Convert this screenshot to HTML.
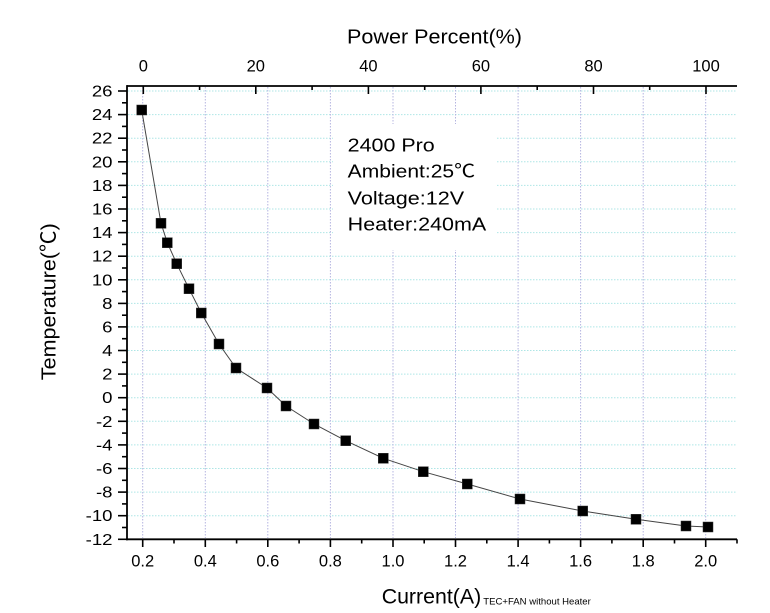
<!DOCTYPE html>
<html><head><meta charset="utf-8"><style>
html,body{margin:0;padding:0;background:#fff;}
svg{display:block;}
text{font-family:"Liberation Sans","Noto Sans CJK SC",sans-serif;fill:#000;}
</style></head><body>
<svg width="770" height="613" viewBox="0 0 770 613" xmlns="http://www.w3.org/2000/svg">
<rect width="770" height="613" fill="#fff"/>
<!-- horizontal grid -->
<g stroke="#aee6e6" stroke-width="1" stroke-dasharray="1.5,1.5">
<line x1="128" x2="736" y1="91" y2="91"/>
<line x1="128" x2="736" y1="114.6" y2="114.6"/>
<line x1="128" x2="736" y1="138.2" y2="138.2"/>
<line x1="128" x2="736" y1="161.8" y2="161.8"/>
<line x1="128" x2="736" y1="185.4" y2="185.4"/>
<line x1="128" x2="736" y1="209" y2="209"/>
<line x1="128" x2="736" y1="232.6" y2="232.6"/>
<line x1="128" x2="736" y1="256.2" y2="256.2"/>
<line x1="128" x2="736" y1="279.8" y2="279.8"/>
<line x1="128" x2="736" y1="303.4" y2="303.4"/>
<line x1="128" x2="736" y1="326.9" y2="326.9"/>
<line x1="128" x2="736" y1="350.5" y2="350.5"/>
<line x1="128" x2="736" y1="374.1" y2="374.1"/>
<line x1="128" x2="736" y1="397.7" y2="397.7"/>
<line x1="128" x2="736" y1="421.3" y2="421.3"/>
<line x1="128" x2="736" y1="444.9" y2="444.9"/>
<line x1="128" x2="736" y1="468.5" y2="468.5"/>
<line x1="128" x2="736" y1="492.1" y2="492.1"/>
<line x1="128" x2="736" y1="515.7" y2="515.7"/>
</g>
<!-- vertical grid -->
<g stroke="#b4b4e0" stroke-width="1" stroke-dasharray="1.5,1.5">
<line x1="142.7" x2="142.7" y1="87" y2="538"/>
<line x1="205.3" x2="205.3" y1="87" y2="538"/>
<line x1="267.8" x2="267.8" y1="87" y2="538"/>
<line x1="330.4" x2="330.4" y1="87" y2="538"/>
<line x1="393" x2="393" y1="87" y2="538"/>
<line x1="455.5" x2="455.5" y1="87" y2="538"/>
<line x1="518.1" x2="518.1" y1="87" y2="538"/>
<line x1="580.6" x2="580.6" y1="87" y2="538"/>
<line x1="643.2" x2="643.2" y1="87" y2="538"/>
<line x1="705.7" x2="705.7" y1="87" y2="538"/>
</g>
<!-- text box background -->
<rect x="333" y="124" width="164" height="126" fill="#fff"/>
<!-- axes -->
<g stroke="#000" stroke-width="1.8" fill="none">
<line x1="127" y1="86" x2="737" y2="86"/>
<line x1="127" y1="85.1" x2="127" y2="540.2"/>
<line x1="126.1" y1="539.3" x2="737" y2="539.3"/>
</g>
<!-- left ticks -->
<g stroke="#000" stroke-width="1.6">
<line x1="118" x2="127" y1="91" y2="91"/>
<line x1="118" x2="127" y1="114.6" y2="114.6"/>
<line x1="118" x2="127" y1="138.2" y2="138.2"/>
<line x1="118" x2="127" y1="161.8" y2="161.8"/>
<line x1="118" x2="127" y1="185.4" y2="185.4"/>
<line x1="118" x2="127" y1="209" y2="209"/>
<line x1="118" x2="127" y1="232.6" y2="232.6"/>
<line x1="118" x2="127" y1="256.2" y2="256.2"/>
<line x1="118" x2="127" y1="279.8" y2="279.8"/>
<line x1="118" x2="127" y1="303.4" y2="303.4"/>
<line x1="118" x2="127" y1="326.9" y2="326.9"/>
<line x1="118" x2="127" y1="350.5" y2="350.5"/>
<line x1="118" x2="127" y1="374.1" y2="374.1"/>
<line x1="118" x2="127" y1="397.7" y2="397.7"/>
<line x1="118" x2="127" y1="421.3" y2="421.3"/>
<line x1="118" x2="127" y1="444.9" y2="444.9"/>
<line x1="118" x2="127" y1="468.5" y2="468.5"/>
<line x1="118" x2="127" y1="492.1" y2="492.1"/>
<line x1="118" x2="127" y1="515.7" y2="515.7"/>
<line x1="118" x2="127" y1="539.3" y2="539.3"/>
<line x1="122" x2="127" y1="102.8" y2="102.8"/>
<line x1="122" x2="127" y1="126.4" y2="126.4"/>
<line x1="122" x2="127" y1="150" y2="150"/>
<line x1="122" x2="127" y1="173.6" y2="173.6"/>
<line x1="122" x2="127" y1="197.2" y2="197.2"/>
<line x1="122" x2="127" y1="220.8" y2="220.8"/>
<line x1="122" x2="127" y1="244.4" y2="244.4"/>
<line x1="122" x2="127" y1="268" y2="268"/>
<line x1="122" x2="127" y1="291.6" y2="291.6"/>
<line x1="122" x2="127" y1="315.2" y2="315.2"/>
<line x1="122" x2="127" y1="338.7" y2="338.7"/>
<line x1="122" x2="127" y1="362.3" y2="362.3"/>
<line x1="122" x2="127" y1="385.9" y2="385.9"/>
<line x1="122" x2="127" y1="409.5" y2="409.5"/>
<line x1="122" x2="127" y1="433.1" y2="433.1"/>
<line x1="122" x2="127" y1="456.7" y2="456.7"/>
<line x1="122" x2="127" y1="480.3" y2="480.3"/>
<line x1="122" x2="127" y1="503.9" y2="503.9"/>
<line x1="122" x2="127" y1="527.5" y2="527.5"/>
</g>
<!-- top ticks -->
<g stroke="#000" stroke-width="1.6">
<line x1="143.3" x2="143.3" y1="86" y2="94"/>
<line x1="255.8" x2="255.8" y1="86" y2="94"/>
<line x1="368.4" x2="368.4" y1="86" y2="94"/>
<line x1="480.9" x2="480.9" y1="86" y2="94"/>
<line x1="593.5" x2="593.5" y1="86" y2="94"/>
<line x1="706" x2="706" y1="86" y2="94"/>
<line x1="199.6" x2="199.6" y1="86" y2="90"/>
<line x1="312.1" x2="312.1" y1="86" y2="90"/>
<line x1="424.7" x2="424.7" y1="86" y2="90"/>
<line x1="537.2" x2="537.2" y1="86" y2="90"/>
<line x1="649.7" x2="649.7" y1="86" y2="90"/>
</g>
<!-- bottom ticks -->
<g stroke="#000" stroke-width="1.6">
<line x1="142.7" x2="142.7" y1="539.3" y2="547"/>
<line x1="205.3" x2="205.3" y1="539.3" y2="547"/>
<line x1="267.8" x2="267.8" y1="539.3" y2="547"/>
<line x1="330.4" x2="330.4" y1="539.3" y2="547"/>
<line x1="393" x2="393" y1="539.3" y2="547"/>
<line x1="455.5" x2="455.5" y1="539.3" y2="547"/>
<line x1="518.1" x2="518.1" y1="539.3" y2="547"/>
<line x1="580.6" x2="580.6" y1="539.3" y2="547"/>
<line x1="643.2" x2="643.2" y1="539.3" y2="547"/>
<line x1="705.7" x2="705.7" y1="539.3" y2="547"/>
<line x1="174" x2="174" y1="539.3" y2="543.5"/>
<line x1="236.6" x2="236.6" y1="539.3" y2="543.5"/>
<line x1="299.1" x2="299.1" y1="539.3" y2="543.5"/>
<line x1="361.7" x2="361.7" y1="539.3" y2="543.5"/>
<line x1="424.2" x2="424.2" y1="539.3" y2="543.5"/>
<line x1="486.8" x2="486.8" y1="539.3" y2="543.5"/>
<line x1="549.4" x2="549.4" y1="539.3" y2="543.5"/>
<line x1="611.9" x2="611.9" y1="539.3" y2="543.5"/>
<line x1="674.5" x2="674.5" y1="539.3" y2="543.5"/>
<line x1="737" x2="737" y1="539.3" y2="543.5"/>
</g>
<!-- data line -->
<polyline fill="none" stroke="#444" stroke-width="1" points="141.7,110 161,223.3 167.3,242.7 176.7,263.7 189,288.7 201.3,313 219,344 236,368 267,388 286,406 314,424 345.7,440.7 383.3,458.3 423.3,471.7 467.3,484 520,499 582.7,511 636,519.3 686,526 708,527"/>
<!-- markers -->
<g fill="#000" stroke="#333" stroke-width="0.5">
<rect x="136.7" y="105" width="10" height="10"/>
<rect x="156" y="218.3" width="10" height="10"/>
<rect x="162.3" y="237.7" width="10" height="10"/>
<rect x="171.7" y="258.7" width="10" height="10"/>
<rect x="184" y="283.7" width="10" height="10"/>
<rect x="196.3" y="308" width="10" height="10"/>
<rect x="214" y="339" width="10" height="10"/>
<rect x="231" y="363" width="10" height="10"/>
<rect x="262" y="383" width="10" height="10"/>
<rect x="281" y="401" width="10" height="10"/>
<rect x="309" y="419" width="10" height="10"/>
<rect x="340.7" y="435.7" width="10" height="10"/>
<rect x="378.3" y="453.3" width="10" height="10"/>
<rect x="418.3" y="466.7" width="10" height="10"/>
<rect x="462.3" y="479" width="10" height="10"/>
<rect x="515" y="494" width="10" height="10"/>
<rect x="577.7" y="506" width="10" height="10"/>
<rect x="631" y="514.3" width="10" height="10"/>
<rect x="681" y="521" width="10" height="10"/>
<rect x="703" y="522" width="10" height="10"/>
</g>
<!-- y tick labels -->
<g font-size="15.5" text-anchor="end" transform="translate(112.5,0) scale(1.2,1)">
<text x="0" y="96.5">26</text>
<text x="0" y="120.1">24</text>
<text x="0" y="143.7">22</text>
<text x="0" y="167.3">20</text>
<text x="0" y="190.9">18</text>
<text x="0" y="214.5">16</text>
<text x="0" y="238.1">14</text>
<text x="0" y="261.7">12</text>
<text x="0" y="285.3">10</text>
<text x="0" y="308.9">8</text>
<text x="0" y="332.4">6</text>
<text x="0" y="356">4</text>
<text x="0" y="379.6">2</text>
<text x="0" y="403.2">0</text>
<text x="0" y="426.8">-2</text>
<text x="0" y="450.4">-4</text>
<text x="0" y="474">-6</text>
<text x="0" y="497.6">-8</text>
<text x="0" y="521.2">-10</text>
<text x="0" y="544.8">-12</text>
</g>
<!-- top tick labels -->
<g font-size="16.5" text-anchor="middle">
<text x="143.3" y="71.7">0</text>
<text x="255.8" y="71.7">20</text>
<text x="368.4" y="71.7">40</text>
<text x="480.9" y="71.7">60</text>
<text x="593.5" y="71.7">80</text>
<text x="706" y="71.7">100</text>
</g>
<!-- bottom tick labels -->
<g font-size="16.5" text-anchor="middle">
<text x="142.7" y="566.7">0.2</text>
<text x="205.3" y="566.7">0.4</text>
<text x="267.8" y="566.7">0.6</text>
<text x="330.4" y="566.7">0.8</text>
<text x="393" y="566.7">1.0</text>
<text x="455.5" y="566.7">1.2</text>
<text x="518.1" y="566.7">1.4</text>
<text x="580.6" y="566.7">1.6</text>
<text x="643.2" y="566.7">1.8</text>
<text x="705.7" y="566.7">2.0</text>
</g>
<!-- titles -->
<text x="347" y="43.5" font-size="20" textLength="175" lengthAdjust="spacingAndGlyphs">Power Percent(%)</text>
<text x="381.7" y="603.3" font-size="21.5" textLength="99.5" lengthAdjust="spacingAndGlyphs">Current(A)</text>
<text x="483.3" y="604.3" font-size="9.5" textLength="107.5" lengthAdjust="spacingAndGlyphs">TEC+FAN without Heater</text>
<text transform="translate(55.7,301.7) rotate(-90)" x="0" y="0" font-size="20.5" text-anchor="middle" textLength="157" lengthAdjust="spacingAndGlyphs">Temperature(℃)</text>
<!-- annotation -->
<g font-size="18.5">
<text x="347.7" y="151.7" textLength="87" lengthAdjust="spacingAndGlyphs">2400 Pro</text>
<text x="347.7" y="177.5" textLength="127.5" lengthAdjust="spacingAndGlyphs">Ambient:25℃</text>
<text x="347.7" y="204.3" textLength="116.5" lengthAdjust="spacingAndGlyphs">Voltage:12V</text>
<text x="347.7" y="230.7" textLength="138.5" lengthAdjust="spacingAndGlyphs">Heater:240mA</text>
</g>
</svg>
</body></html>
